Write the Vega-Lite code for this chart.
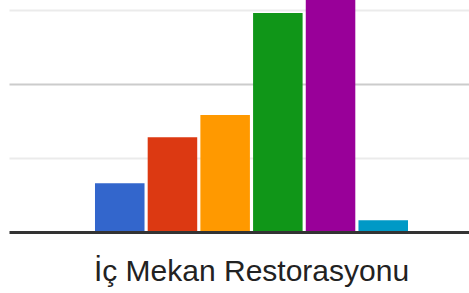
{
  "$schema": "https://vega.github.io/schema/vega-lite/v6.json",
  "width": 460,
  "height": 232,
  "autosize": "none",
  "padding": {"left": 9, "top": 0, "right": 0, "bottom": 61},
  "background": "white",
  "config": {"view": {"stroke": null}},
  "data": {
    "values": [
      {"kategori": "İç Mekan Restorasyonu", "seri": "1", "deger": 6.6},
      {"kategori": "İç Mekan Restorasyonu", "seri": "2", "deger": 12.8},
      {"kategori": "İç Mekan Restorasyonu", "seri": "3", "deger": 15.8},
      {"kategori": "İç Mekan Restorasyonu", "seri": "4", "deger": 29.6},
      {"kategori": "İç Mekan Restorasyonu", "seri": "5", "deger": 34},
      {"kategori": "İç Mekan Restorasyonu", "seri": "6", "deger": 1.6}
    ]
  },
  "mark": {"type": "bar", "clip": true},
  "encoding": {
    "x": {
      "field": "kategori",
      "type": "nominal",
      "scale": {"paddingInner": 0, "paddingOuter": 0.2348, "align": 0.585},
      "axis": {
        "title": null,
        "labelAngle": 0,
        "labelFont": "Liberation Sans",
        "labelFontSize": 30,
        "labelColor": "#222222",
        "labelPadding": 48,
        "labelLimit": 0,
        "labelBaseline": "alphabetic",
        "labelOverlap": false,
        "labelBound": false,
        "ticks": false,
        "domainColor": "#333333",
        "domainWidth": 3,
        "domainOpacity": 1,
        "grid": false,
        "zindex": 1
      }
    },
    "xOffset": {
      "field": "seri",
      "type": "nominal",
      "scale": {"paddingInner": 0.06, "paddingOuter": 0}
    },
    "y": {
      "field": "deger",
      "type": "quantitative",
      "scale": {"domain": [0, 31.35], "nice": false},
      "axis": {
        "title": null,
        "labels": false,
        "ticks": false,
        "domain": false,
        "values": [10, 20, 30],
        "grid": true,
        "gridWidth": 2,
        "gridColor": {"condition": {"test": "datum.value === 20", "value": "#cccccc"}, "value": "#ebebeb"}
      }
    },
    "color": {
      "field": "seri",
      "type": "nominal",
      "scale": {"range": ["#3366cc", "#dc3912", "#ff9900", "#109618", "#990099", "#0099c6"]},
      "legend": null
    }
  }
}
